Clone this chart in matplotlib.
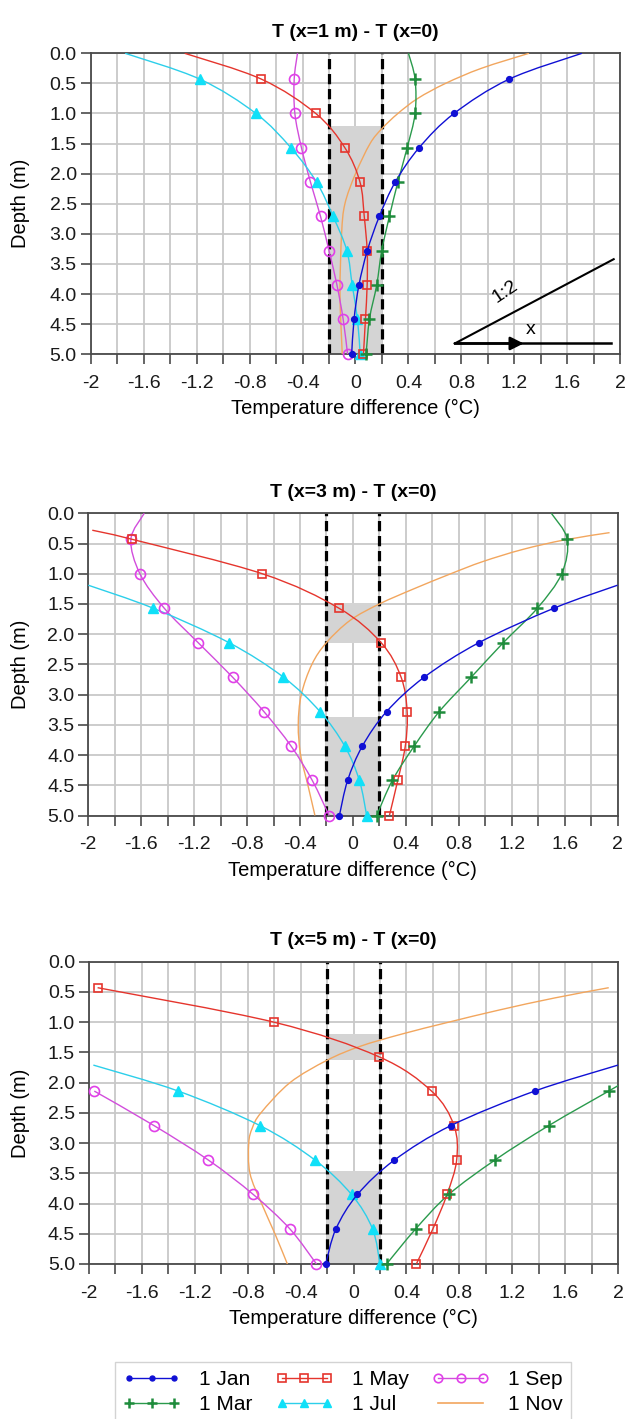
import numpy as np
import matplotlib
matplotlib.use("Agg")
import matplotlib.pyplot as plt
from matplotlib.path import Path
from matplotlib.patches import PathPatch
from matplotlib.lines import Line2D

plt.rcParams['font.family'] = ['Liberation Sans', 'DejaVu Sans']

# ---------------- data ----------------
MARKER_DEPTHS = [0.43, 1.0, 1.57, 2.14, 2.71, 3.28, 3.85, 4.42, 5.0]
D_FULL = [0.0, 0.43, 1.0, 1.57, 2.14, 2.71, 3.28, 3.85, 4.42, 5.0]

# Panel 1: T(x=1 m) - T(x=0)
p1_jan_d = D_FULL
p1_jan = [1.71, 1.16, 0.744, 0.48, 0.30, 0.18, 0.089, 0.026, -0.011, -0.029]
p1_mar_d = D_FULL
p1_mar = [0.40, 0.45, 0.45, 0.39, 0.32, 0.256, 0.198, 0.16, 0.105, 0.08]
p1_may_d = D_FULL
p1_may = [-1.29, -0.71, -0.30, -0.08, 0.034, 0.066, 0.088, 0.088, 0.075, 0.06]
p1_jul_d = D_FULL
p1_jul = [-1.74, -1.175, -0.752, -0.488, -0.294, -0.169, -0.065, -0.025, 0.015, 0.035]
p1_sep_d = D_FULL
p1_sep = [-0.438, -0.463, -0.458, -0.408, -0.34, -0.264, -0.2, -0.14, -0.093, -0.06]
p1_nov_d = [0.0, 0.25, 0.5, 0.75, 1.0, 1.25, 1.5, 2.0, 2.5, 3.0, 4.0, 5.0]
p1_nov = [1.31, 0.95, 0.68, 0.47, 0.32, 0.2, 0.11, 0.0, -0.08, -0.105, -0.117, -0.10]

# Panel 2: T(x=3 m) - T(x=0)
p2_jan_d = [1.19, 1.57, 2.14, 2.71, 3.28, 3.85, 4.42, 5.0]
p2_jan = [2.0, 1.52, 0.953, 0.54, 0.255, 0.072, -0.04, -0.102]
p2_mar_d = D_FULL
p2_mar = [1.50, 1.62, 1.578, 1.394, 1.137, 0.895, 0.653, 0.464, 0.298, 0.18]
p2_may_d = [0.28, 0.43, 1.0, 1.57, 2.14, 2.71, 3.28, 3.85, 4.42, 5.0]
p2_may = [-1.97, -1.67, -0.685, -0.106, 0.213, 0.364, 0.41, 0.396, 0.339, 0.276]
p2_jul_d = [1.19, 1.57, 2.14, 2.71, 3.28, 3.85, 4.42, 5.0]
p2_jul = [-2.0, -1.51, -0.937, -0.526, -0.249, -0.062, 0.049, 0.104]
p2_sep_d = D_FULL
p2_sep = [-1.577, -1.678, -1.61, -1.426, -1.17, -0.91, -0.673, -0.468, -0.307, -0.18]
p2_nov_d = [0.32, 0.44, 0.6, 0.8, 1.0, 1.25, 1.5, 1.77, 2.14, 2.5, 3.0, 3.5, 4.0, 4.5, 5.0]
p2_nov = [1.94, 1.6, 1.28, 0.98, 0.74, 0.46, 0.2, -0.02, -0.2, -0.31, -0.39, -0.413, -0.395, -0.34, -0.287]

# Panel 3: T(x=5 m) - T(x=0)
p3_jan_d = [1.71, 2.14, 2.71, 3.28, 3.85, 4.42, 5.0]
p3_jan = [2.0, 1.37, 0.737, 0.31, 0.03, -0.133, -0.21]
p3_mar_d = [2.05, 2.14, 2.71, 3.28, 3.85, 4.42, 5.0]
p3_mar = [2.0, 1.93, 1.477, 1.07, 0.72, 0.47, 0.25]
p3_may_d = [0.43, 1.0, 1.57, 2.14, 2.71, 3.28, 3.85, 4.42, 5.0]
p3_may = [-1.935, -0.602, 0.19, 0.59, 0.76, 0.78, 0.707, 0.60, 0.475]
p3_jul_d = [1.71, 2.14, 2.71, 3.28, 3.85, 4.42, 5.0]
p3_jul = [-1.967, -1.325, -0.708, -0.292, -0.015, 0.144, 0.20]
p3_sep_d = [2.14, 2.71, 3.28, 3.85, 4.42, 5.0]
p3_sep = [-1.96, -1.509, -1.098, -0.758, -0.481, -0.28]
p3_nov_d = [0.43, 0.6, 0.8, 1.0, 1.2, 1.4, 1.63, 2.0, 2.5, 2.75, 3.0, 3.5, 4.0, 4.5, 5.0]
p3_nov = [1.93, 1.52, 1.1, 0.72, 0.36, 0.05, -0.2, -0.48, -0.70, -0.765, -0.792, -0.783, -0.695, -0.594, -0.50]

SERIES_LABELS = ['1 Jan', '1 Mar', '1 May', '1 Jul', '1 Sep', '1 Nov']
PANEL_TITLES = ['T (x=1 m) - T (x=0)', 'T (x=3 m) - T (x=0)', 'T (x=5 m) - T (x=0)']
# shaded depth bands (x from -0.2 to 0.2)
P1_BANDS = [(1.2, 5.0)]
P2_BANDS = [(1.48, 2.14), (3.37, 5.0)]
P3_BANDS = [(1.19, 1.63), (3.46, 5.0)]
BAND_X = (-0.2, 0.2)

X_TICKS = np.round(np.arange(-2.0, 2.001, 0.2), 1) + 0.0
X_LABELED = np.round(np.arange(-2.0, 2.001, 0.4), 1) + 0.0
Y_TICKS = np.round(np.arange(0.0, 5.001, 0.5), 1)

# ---------------- styles ----------------
STYLES = {
    '1 Jan': dict(color='#1010d4', marker='o', ms=4.2, mfc='#1010d4', mec='#1010d4', mew=1.0),
    '1 Mar': dict(color='#2a9a4c', marker='+', ms=9, mfc='#1f8c3c', mec='#1f8c3c', mew=1.8),
    '1 May': dict(color='#e5352d', marker='s', ms=6.0, mfc='none', mec='#e5352d', mew=1.2),
    '1 Jul': dict(color='#2ccfea', marker='^', ms=6.5, mfc='#10e0f8', mec='#10e0f8', mew=1.0),
    '1 Sep': dict(color='#d24ddc', marker='o', ms=7.2, mfc='none', mec='#e040e8', mew=1.2),
    '1 Nov': dict(color='#f2a65e', marker=None),
}

W, H = 625, 1419
fig = plt.figure(figsize=(W / 100, H / 100), dpi=100)

PANEL_RECTS = [(90.7, 53.3, 620.3, 354.3), (88.3, 513.3, 617.5, 815.5), (89.0, 961.7, 618.0, 1264.0)]


def smooth_path(x, y):
    pts = np.column_stack([x, y]).astype(float)
    n = len(pts)
    verts = [pts[0]]
    codes = [Path.MOVETO]
    for i in range(n - 1):
        p0 = pts[i - 1] if i > 0 else pts[i]
        p1 = pts[i]
        p2 = pts[i + 1]
        p3 = pts[i + 2] if i + 2 < n else pts[i + 1]
        c1 = p1 + (p2 - p0) / 6.0
        c2 = p2 - (p3 - p1) / 6.0
        verts += [c1, c2, p2]
        codes += [Path.CURVE4] * 3
    return Path(verts, codes)


def draw_series(ax, depths, values, label, z):
    st = STYLES[label]
    patch = PathPatch(smooth_path(values, depths), fill=False, edgecolor=st['color'],
                      lw=1.0, zorder=z)
    ax.add_patch(patch)
    if st['marker'] is not None:
        d = np.array(depths)
        v = np.array(values)
        mask = np.array([any(abs(di - m) < 1e-6 for m in MARKER_DEPTHS) for di in d])
        ax.plot(v[mask], d[mask], linestyle='none', marker=st['marker'], ms=st['ms'],
                mfc=st['mfc'], mec=st['mec'], mew=st['mew'], zorder=z + 0.1, clip_on=False)


panels = [
    [(p1_jan_d, p1_jan), (p1_mar_d, p1_mar), (p1_may_d, p1_may), (p1_jul_d, p1_jul), (p1_sep_d, p1_sep), (p1_nov_d, p1_nov)],
    [(p2_jan_d, p2_jan), (p2_mar_d, p2_mar), (p2_may_d, p2_may), (p2_jul_d, p2_jul), (p2_sep_d, p2_sep), (p2_nov_d, p2_nov)],
    [(p3_jan_d, p3_jan), (p3_mar_d, p3_mar), (p3_may_d, p3_may), (p3_jul_d, p3_jul), (p3_sep_d, p3_sep), (p3_nov_d, p3_nov)],
]
bands = [P1_BANDS, P2_BANDS, P3_BANDS]
z_order = {'1 Nov': 3.0, '1 Jan': 3.6, '1 Mar': 3.5, '1 May': 3.4, '1 Jul': 3.3, '1 Sep': 3.2}


def fmt_x(v):
    v = round(float(v), 1) + 0.0
    return f"{v:g}"


axes = []
for pi, (l, t, r, b) in enumerate(PANEL_RECTS):
    ax = fig.add_axes([l / W, 1 - b / H, (r - l) / W, (b - t) / H])
    axes.append(ax)
    ax.set_xlim(-2, 2)
    ax.set_ylim(5, 0)
    ax.set_xticks(X_TICKS)
    ax.set_xticklabels([fmt_x(v) if np.any(np.isclose(v, X_LABELED)) else "" for v in X_TICKS])
    ax.set_yticks(Y_TICKS)
    ax.set_yticklabels([f"{v:.1f}" for v in Y_TICKS])
    ax.grid(True, color='#c8c8c8', lw=1.3, zorder=0)
    ax.set_axisbelow(True)
    ax.tick_params(axis='both', direction='out', length=7, width=1.2, color='#4a4a4a',
                   labelsize=14, labelcolor='#1a1a1a')
    ax.tick_params(axis='x', pad=8)
    ax.tick_params(axis='y', pad=3)
    for sp in ax.spines.values():
        sp.set_color('#4a4a4a')
        sp.set_linewidth(1.3)
    for (d0, d1) in bands[pi]:
        ax.fill_betweenx([d0, d1], BAND_X[0], BAND_X[1], color='#d4d4d4', lw=0, zorder=1)
    for xv in BAND_X:
        ax.axvline(xv, color='black', lw=2.3, ls=(0, (3.2, 1.5)), zorder=2.5)
    for (dd, vv), lab in zip(panels[pi], SERIES_LABELS):
        draw_series(ax, dd, vv, lab, z_order[lab])
    ax.set_title(PANEL_TITLES[pi], fontsize=14, fontweight='bold', pad=12)
    ax.set_xlabel('Temperature difference (°C)', fontsize=14.5)
    ax.set_ylabel('Depth (m)', fontsize=14.5)
    ax.xaxis.set_label_coords(0.5, -45 / (b - t))
    ax.yaxis.set_label_coords((30 - l) / (r - l), 0.5)

# inset slope sketch in panel 1
ax1 = axes[0]
SLOPE_START = (0.75, 4.82)
SLOPE_END = (1.95, 3.42)
ARROW_END = 1.93
ARROW_HEAD = 1.27
ax1.plot([SLOPE_START[0], SLOPE_END[0]], [SLOPE_START[1], SLOPE_END[1]], color='black', lw=1.5, zorder=5)
ax1.plot([SLOPE_START[0], ARROW_END], [SLOPE_START[1], SLOPE_START[1]], color='black', lw=1.8, zorder=5)
ax1.annotate('', xy=(ARROW_HEAD, SLOPE_START[1]), xytext=SLOPE_START,
             arrowprops=dict(arrowstyle='-|>', color='black', lw=1.8, mutation_scale=20, shrinkA=0, shrinkB=0),
             zorder=6)
ax1.text(1.13, 3.96, '1:2', fontsize=14, rotation=34, ha='center', va='center', zorder=6)
ax1.text(1.32, 4.58, 'x', fontsize=14, ha='center', va='center', zorder=6)

# legend
handles = []
for lab in SERIES_LABELS:
    st = STYLES[lab]
    if st['marker'] is None:
        handles.append(Line2D([], [], color=st['color'], lw=1.2))
    else:
        handles.append(Line2D([], [], color=st['color'], lw=1.0, marker=st['marker'],
                              ms=st['ms'] * 0.85, mfc=st['mfc'], mec=st['mec'], mew=st['mew']))
fig.legend(handles, SERIES_LABELS, ncol=3, loc='upper left',
           bbox_to_anchor=(115 / W, 1 - 1362 / H), borderaxespad=0,
           frameon=True, fancybox=False, edgecolor='#c8c8c8', fontsize=15,
           handlelength=2.75, handletextpad=0.92, columnspacing=1.1, borderpad=0.38,
           labelspacing=0.3, numpoints=3)

fig.savefig('out.png', dpi=100)
